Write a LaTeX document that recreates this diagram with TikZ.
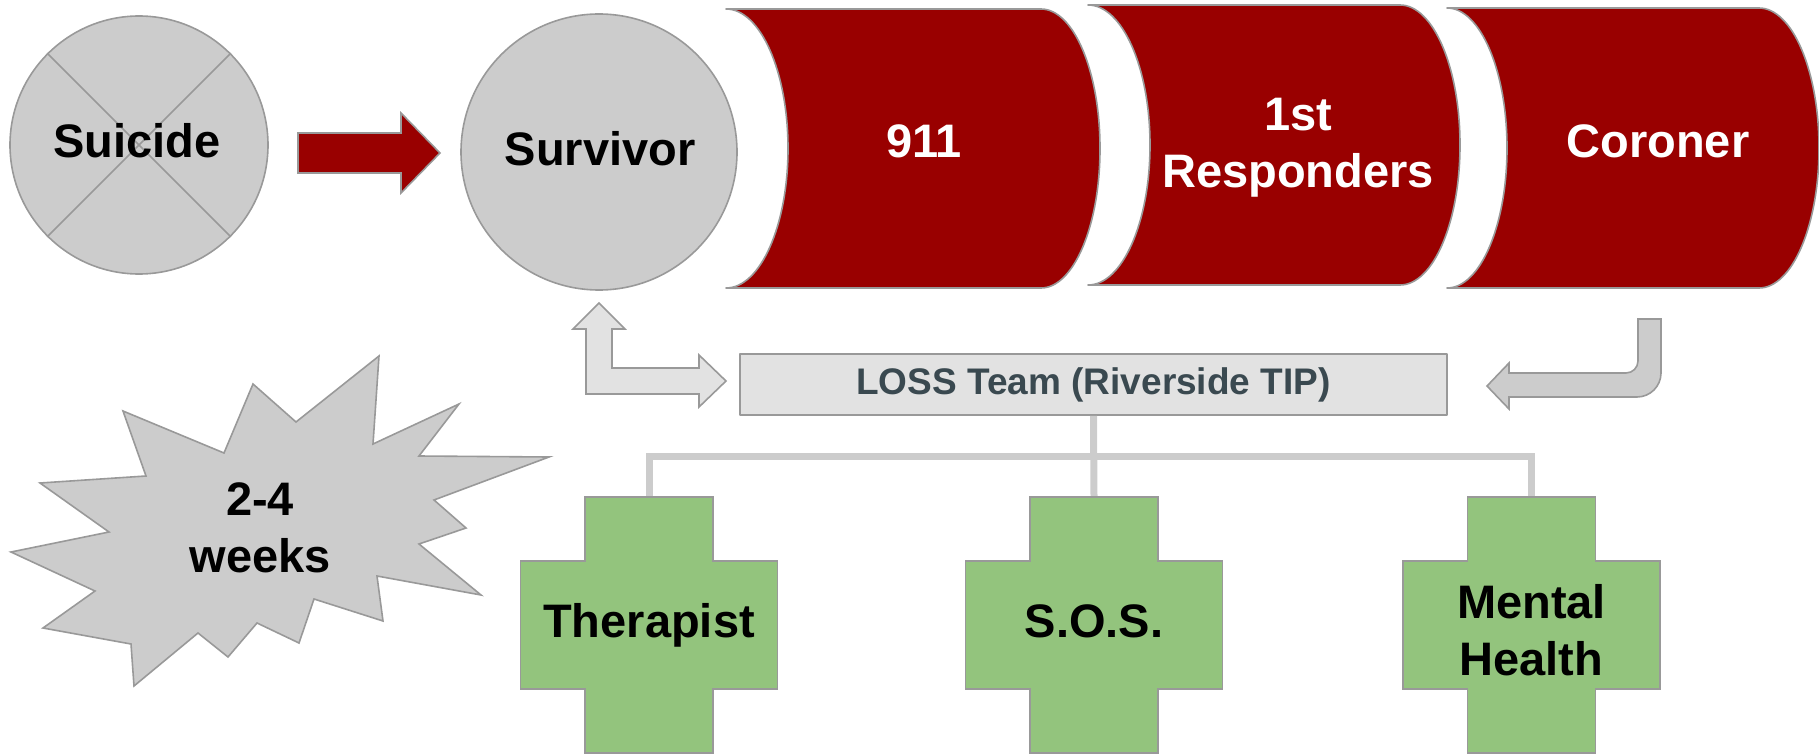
\documentclass[tikz,border=0pt]{standalone}
\usepackage{fontspec}
\setmainfont{Liberation Sans}

\definecolor{panelred}{HTML}{990000}
\definecolor{greyfill}{HTML}{CCCCCC}
\definecolor{paleFill}{HTML}{E2E2E2}
\definecolor{greyline}{HTML}{999999}
\definecolor{busline}{HTML}{CCCCCC}
\definecolor{crossgreen}{HTML}{93C47D}
\definecolor{slatetext}{HTML}{3A4950}

\begin{document}
\begin{tikzpicture}[x=1pt, y=-1pt,
  outline/.style={draw=greyline, line width=1.6pt, line join=round},
  bigtext/.style={font=\bfseries\fontsize{47}{57}\selectfont, anchor=base, inner sep=0pt, align=center},
  panel/.style={outline, fill=panelred},
  disc/.style={circle, outline, fill=greyfill, inner sep=0pt},
  crossshape/.style={outline, fill=crossgreen, line join=miter},
  bus/.style={draw=busline, line width=7pt, line join=miter},
]
\useasboundingbox (0,0) rectangle (1819,754);

% --- event circles -------------------------------------------------------
\node[disc, minimum size=258pt] (suicide) at (139,145) {};
\draw[draw=greyline, line width=1.6pt] (suicide.north west) -- (suicide.south east);
\draw[draw=greyline, line width=1.6pt] (suicide.north east) -- (suicide.south west);
\node[bigtext] (suicide-text) at (137,158) {Suicide};

\node[disc, minimum size=276pt] (survivor) at (599,152) {};
\node[bigtext] (survivor-text) at (600,166) {Survivor};

% block arrow between the circles
\draw[panel, line join=miter] (298,133) -- (401,133) -- (401,113) -- (440,153)
  -- (401,193) -- (401,173) -- (298,173) -- cycle;

% --- curved red panels (multi-line labels sit on their last baseline) ------
\draw[panel] (726,9) -- (1041,9)
  arc[start angle=-90, end angle=90, x radius=59, y radius=139.5]
  -- (726,288)
  arc[start angle=90, end angle=-90, x radius=62, y radius=139.5] -- cycle;
\node[bigtext, text=white] (call) at (924,158) {911};

\draw[panel] (1088,5) -- (1400,5)
  arc[start angle=-90, end angle=90, x radius=60, y radius=140]
  -- (1088,285)
  arc[start angle=90, end angle=-90, x radius=62, y radius=140] -- cycle;
\node[bigtext, text=white] (responders) at (1298,188) {1st\\Responders};

\draw[panel] (1447,8) -- (1759,8)
  arc[start angle=-90, end angle=90, x radius=60, y radius=140]
  -- (1447,288)
  arc[start angle=90, end angle=-90, x radius=60, y radius=140] -- cycle;
\node[bigtext, text=white] (coroner) at (1658,158) {Coroner};

% --- LOSS team box ----------------------------------------------------------
\node[outline, fill=paleFill, minimum width=707pt, minimum height=61pt, inner sep=0pt,
      text=slatetext, font=\bfseries\fontsize{37}{44}\selectfont] (loss) at (1093.5,384.5)
      {LOSS Team (Riverside TIP)};

% two-way bent arrow between Survivor and the LOSS team
\draw[outline, fill=paleFill, line join=miter] (599,303) -- (625,329) -- (612,329) -- (612,368)
  -- (699,368) -- (699,355) -- (726,381) -- (699,407) -- (699,394)
  -- (586,394) -- (586,329) -- (573,329) -- cycle;

% bent arrow from the Coroner down to the LOSS team
\draw[outline, fill=greyfill, line join=miter] (1638,319) -- (1661,319) -- (1661,373)
  .. controls (1661,386.2) and (1650.2,397) .. (1637,397)
  -- (1509,397) -- (1509,409) -- (1487,386) -- (1509,363) -- (1509,373)
  -- (1626,373) .. controls (1632.6,373) and (1638,367.6) .. (1638,361) -- cycle;

% --- "2-4 weeks" burst ------------------------------------------------------
\draw[outline, fill=greyfill, line join=miter]
  (123,411) -- (224,453) -- (253,384) -- (296,422) -- (379,356) -- (373,444)
  -- (459,404) -- (419,456) -- (549,457) -- (434,500) -- (466,528) -- (419,544)
  -- (481,595) -- (377,576) -- (383,621) -- (314,599) -- (299,643) -- (257,623)
  -- (228,657) -- (198,633) -- (134,686) -- (131,644) -- (43,628) -- (95,591)
  -- (11,552) -- (109,532) -- (40,483) -- (146,476) -- cycle;
\node[bigtext] (weeks) at (260,572) {2-4\\weeks};

% --- connectors from the LOSS team to the support services ------------------
\coordinate (therapist-top) at (649,497);
\coordinate (sos-top) at (1094,497);
\coordinate (mental-top) at (1531.5,497);
\coordinate (bus-mid) at (1094,456);
\draw[bus] (loss.south) -- (sos-top);
\draw[bus] (therapist-top) |- (bus-mid) -| (mental-top);

% --- green crosses ---------------------------------------------------------
\foreach \cx in {649,1094,1531.5}{
  \draw[crossshape] (\cx-64,497) -- (\cx+64,497) -- (\cx+64,561) -- (\cx+128.5,561)
    -- (\cx+128.5,689) -- (\cx+64,689) -- (\cx+64,753) -- (\cx-64,753)
    -- (\cx-64,689) -- (\cx-128.5,689) -- (\cx-128.5,561) -- (\cx-64,561) -- cycle;
}
\node[bigtext] (therapist) at (649,637) {Therapist};
\node[bigtext] (sos) at (1094,637) {S.O.S.};
\node[bigtext] (mental) at (1531.5,675) {Mental\\Health};

\end{tikzpicture}
\end{document}
